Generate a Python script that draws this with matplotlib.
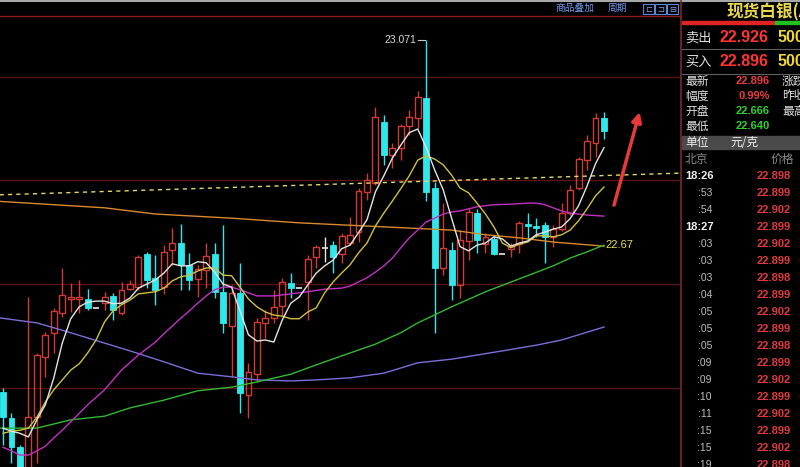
import matplotlib
matplotlib.use("Agg")
import matplotlib.pyplot as plt
from matplotlib.patches import Rectangle
from matplotlib.lines import Line2D

plt.rcParams['font.family'] = ['Noto Sans CJK SC', 'DejaVu Sans']

# candle data (price), one per bar
opens = [22.392, 22.341, 22.285, 22.237, 22.343, 22.459, 22.506, 22.544, 22.571, 22.571,
         22.571, 22.554, 22.563, 22.577, 22.544, 22.590, 22.594, 22.658, 22.612, 22.594,
         22.666, 22.679, 22.637, 22.610, 22.627, 22.658, 22.585, 22.519, 22.583, 22.386,
         22.426, 22.525, 22.534, 22.558, 22.602, 22.592, 22.604, 22.652, 22.670, 22.675,
         22.658, 22.679, 22.700, 22.778, 22.795, 22.913, 22.849, 22.863, 22.905, 22.920,
         22.959, 22.785, 22.631, 22.666, 22.598, 22.683, 22.737, 22.677, 22.687, 22.658,
         22.668, 22.677, 22.716, 22.712, 22.714, 22.691, 22.706, 22.737, 22.785, 22.839,
         22.872, 22.920]
highs = [22.399, 22.351, 22.289, 22.575, 22.467, 22.507, 22.554, 22.631, 22.602, 22.608,
         22.590, 22.554, 22.585, 22.583, 22.604, 22.608, 22.656, 22.662, 22.656, 22.675,
         22.708, 22.716, 22.660, 22.637, 22.679, 22.679, 22.714, 22.598, 22.641, 22.448,
         22.534, 22.550, 22.589, 22.612, 22.621, 22.592, 22.656, 22.675, 22.691, 22.683,
         22.699, 22.729, 22.785, 22.814, 22.942, 22.926, 22.872, 22.909, 22.936, 22.973,
         23.071, 22.797, 22.756, 22.681, 22.704, 22.747, 22.745, 22.699, 22.693, 22.658,
         22.679, 22.722, 22.737, 22.727, 22.720, 22.714, 22.756, 22.791, 22.845, 22.888,
         22.930, 22.932]
lows = [22.289, 22.255, 22.222, 22.226, 22.255, 22.421, 22.467, 22.536, 22.546, 22.544,
        22.550, 22.554, 22.550, 22.531, 22.540, 22.589, 22.589, 22.592, 22.560, 22.581,
        22.637, 22.589, 22.589, 22.575, 22.592, 22.573, 22.506, 22.421, 22.351, 22.341,
        22.411, 22.496, 22.525, 22.540, 22.573, 22.592, 22.531, 22.631, 22.643, 22.621,
        22.641, 22.675, 22.681, 22.762, 22.791, 22.830, 22.824, 22.839, 22.888, 22.901,
        22.760, 22.506, 22.617, 22.569, 22.573, 22.646, 22.660, 22.660, 22.656, 22.658,
        22.652, 22.660, 22.685, 22.691, 22.641, 22.672, 22.702, 22.733, 22.782, 22.820,
        22.845, 22.880]
closes = [22.343, 22.285, 22.237, 22.343, 22.463, 22.502, 22.548, 22.579, 22.575, 22.575,
          22.554, 22.554, 22.575, 22.550, 22.589, 22.600, 22.652, 22.608, 22.589, 22.662,
          22.679, 22.637, 22.608, 22.629, 22.654, 22.585, 22.525, 22.583, 22.390, 22.430,
          22.527, 22.534, 22.556, 22.604, 22.592, 22.592, 22.648, 22.672, 22.670, 22.652,
          22.693, 22.695, 22.780, 22.801, 22.922, 22.849, 22.863, 22.905, 22.922, 22.961,
          22.778, 22.631, 22.670, 22.598, 22.685, 22.739, 22.685, 22.691, 22.658, 22.658,
          22.673, 22.718, 22.712, 22.708, 22.691, 22.706, 22.737, 22.782, 22.841, 22.876,
          22.920, 22.895]

# moving averages
ma5 = [22.322, 22.316, 22.312, 22.305, 22.338, 22.367, 22.419, 22.486, 22.533, 22.556,
       22.565, 22.567, 22.567, 22.562, 22.563, 22.573, 22.592, 22.600, 22.608, 22.621,
       22.639, 22.635, 22.635, 22.643, 22.641, 22.623, 22.600, 22.594, 22.548, 22.502,
       22.490, 22.492, 22.488, 22.531, 22.563, 22.575, 22.598, 22.621, 22.635, 22.646,
       22.668, 22.675, 22.699, 22.724, 22.778, 22.809, 22.843, 22.868, 22.892, 22.899,
       22.863, 22.820, 22.782, 22.727, 22.672, 22.664, 22.675, 22.679, 22.691, 22.687,
       22.673, 22.679, 22.683, 22.695, 22.700, 22.706, 22.710, 22.726, 22.751, 22.789,
       22.832, 22.863]
ma10 = [22.312, 22.316, 22.318, 22.322, 22.343, 22.372, 22.396, 22.415, 22.434, 22.446,
        22.467, 22.492, 22.527, 22.548, 22.560, 22.569, 22.581, 22.583, 22.585, 22.592,
        22.606, 22.614, 22.617, 22.625, 22.631, 22.631, 22.617, 22.616, 22.594, 22.571,
        22.556, 22.546, 22.540, 22.538, 22.533, 22.533, 22.546, 22.554, 22.583, 22.604,
        22.621, 22.637, 22.660, 22.679, 22.712, 22.737, 22.760, 22.784, 22.809, 22.839,
        22.847, 22.841, 22.830, 22.810, 22.785, 22.776, 22.756, 22.735, 22.710, 22.679,
        22.670, 22.677, 22.681, 22.693, 22.693, 22.691, 22.695, 22.704, 22.722, 22.745,
        22.770, 22.787]
ma20_idx = [0, 1, 2, 3, 4, 5, 6, 7, 8, 10, 12, 14, 16, 18, 19, 20, 21, 22, 23, 24, 25, 26, 27,
            28, 29, 30, 32, 34, 36, 38, 40, 41, 42, 43, 44, 45, 46, 47, 48, 49, 50, 51, 52, 53,
            54, 56, 58, 60, 62, 63, 64, 65, 66, 67, 68, 69, 71]
ma20 = [22.285, 22.278, 22.270, 22.270, 22.278, 22.287, 22.303, 22.318, 22.334, 22.367,
        22.396, 22.434, 22.463, 22.488, 22.504, 22.519, 22.534, 22.548, 22.563, 22.577,
        22.589, 22.594, 22.594, 22.589, 22.583, 22.577, 22.577, 22.581, 22.585, 22.590,
        22.592, 22.596, 22.604, 22.612, 22.623, 22.635, 22.650, 22.670, 22.689, 22.704,
        22.720, 22.727, 22.735, 22.739, 22.741, 22.749, 22.753, 22.754, 22.756, 22.756,
        22.753, 22.747, 22.741, 22.737, 22.735, 22.733, 22.731]
ma60_idx = [-1, 4, 8, 12, 15, 19, 23, 27, 30, 34, 37, 41, 44, 47, 49, 53, 57, 61, 65, 67, 69, 71]
ma60 = [22.322, 22.322, 22.338, 22.345, 22.361, 22.376, 22.394, 22.401, 22.411, 22.426,
        22.444, 22.467, 22.484, 22.506, 22.525, 22.556, 22.585, 22.610, 22.635, 22.650,
        22.662, 22.675]
ma120_idx = [-1, 4, 8, 12, 15, 19, 23, 27, 30, 34, 37, 41, 45, 49, 53, 59, 63, 66, 71]
ma120 = [22.536, 22.525, 22.506, 22.486, 22.471, 22.450, 22.428, 22.421, 22.415, 22.413,
         22.415, 22.419, 22.428, 22.448, 22.455, 22.471, 22.482, 22.492, 22.517]
ma250_idx = [-1, 12, 18, 27, 35, 53, 57, 61, 65, 71]
ma250 = [22.760, 22.747, 22.735, 22.727, 22.718, 22.704, 22.695, 22.689, 22.681, 22.673]

trend_idx = [-0.4, 80.2]
trend_val = [22.772, 22.814]
grid_levels = [22.4, 22.6, 22.8, 23.0]
arrow_from = (72.1, 22.747)
arrow_to = (75.3, 22.937)
peak_label = "23.071"
ma_label = "22.67"

# right side quote panel
title = "现货白银(AG)"
sell_price, buy_price = "22.926", "22.896"
info_left = [("最新", "22.896", "涨跌"), ("幅度", "0.99%", "昨收"),
             ("开盘", "22.666", "最高"), ("最低", "22.640", "")]
info_colors = ["#e83c3c", "#e83c3c", "#2fd02f", "#2fd02f"]
tick_times = ["18:26", ":53", ":54", "18:27", ":03", ":03", ":03", ":04", ":05",
              ":05", ":05", ":09", ":09", ":10", ":11", ":15", ":15", ":19"]
tick_prices = ["22.898", "22.899", "22.902", "22.899", "22.902", "22.899", "22.898",
               "22.899", "22.902", "22.899", "22.898", "22.899", "22.902", "22.899",
               "22.902", "22.899", "22.902", "22.898"]

W, H = 800, 467
RED = "#d23a34"
CYAN = "#2ee8ec"


def fx(x):
    return x / W


def fy(y):
    return 1 - y / H


fig = plt.figure(figsize=(8, 4.67), dpi=100, facecolor="black")

# main candle chart
ax = fig.add_axes([0, 0, 681 / W, 451 / H])
ax.set_facecolor("black")
ax.set_xlim(-0.355, 80.1)
ax.set_ylim(22.247, 23.117)
ax.axis("off")

for g in grid_levels:
    ax.axhline(g, color="#5a1414", lw=1, zorder=1)

bw = 0.7
for i in range(len(opens)):
    o, h, l, c = opens[i], highs[i], lows[i], closes[i]
    if c > o:
        ax.vlines(i, c, h, color=RED, lw=1, zorder=2)
        ax.vlines(i, l, o, color=RED, lw=1, zorder=2)
        ax.add_patch(Rectangle((i - bw / 2, o), bw, c - o, fill=False,
                               edgecolor=RED, lw=1, zorder=2))
    elif c < o:
        ax.vlines(i, l, h, color=CYAN, lw=1, zorder=2)
        ax.add_patch(Rectangle((i - bw / 2, c), bw, o - c, facecolor=CYAN,
                               edgecolor=CYAN, lw=0.6, zorder=2))
    else:
        ax.vlines(i, l, h, color="#e8e8e8", lw=1, zorder=2)
        ax.hlines(o, i - bw / 2, i + bw / 2, color="#e8e8e8", lw=1.2, zorder=2)

idx = list(range(len(closes)))
ax.plot(trend_idx, trend_val, color="#e6d866", lw=1, ls=(0, (3, 3)), zorder=3)
ax.plot(ma250_idx, ma250, color="#d98a2e", lw=1, zorder=3)
ax.plot(ma120_idx, ma120, color="#7a6ed8", lw=1, zorder=3)
ax.plot(ma60_idx, ma60, color="#33b833", lw=1, zorder=3)
ax.plot(ma20_idx, ma20, color="#c42fc4", lw=1, zorder=3)
ax.plot(idx, ma10, color="#cfc040", lw=1, zorder=3)
ax.plot(idx, ma5, color="#e4e4e4", lw=1, zorder=3)

peak_i = highs.index(max(highs))
ax.text(peak_i - 1.2, max(highs), peak_label, color="#d8d8d8", fontsize=7.5,
        ha="right", va="center", family=["Liberation Sans", "DejaVu Sans"])
ax.plot([peak_i - 0.95, peak_i - 0.1], [max(highs)] * 2, color="#c8c8c8", lw=0.8)
ax.text(71.2, ma60[-1], ma_label, color="#e8e050", fontsize=8, ha="left", va="center",
        family=["Liberation Sans", "DejaVu Sans"])

ax.annotate("", xy=arrow_to, xytext=arrow_from,
            arrowprops=dict(arrowstyle="-|>", color="#e83a3a", lw=2.5, mutation_scale=14))

# frame lines
fig.add_artist(Line2D([0, 1], [fy(0.5)] * 2, color="#a8a8a8", lw=1.5))
fig.add_artist(Line2D([0, fx(681)], [fy(16)] * 2, color="#8a1c1c", lw=1))
fig.add_artist(Line2D([fx(681)] * 2, [0, 1], color="#7a2a2a", lw=1.2))

# top toolbar
fig.text(fx(555), fy(8), "商品叠加", color="#6f9ae8", fontsize=7, va="center")
fig.text(fx(608), fy(8), "周期", color="#6f9ae8", fontsize=7, va="center")
for k, sym in enumerate(["⊏", "⊐", "⊟"]):
    x0 = 643 + k * 12
    fig.add_artist(Rectangle((fx(x0), fy(14)), 11 / W, 10 / H, fill=False,
                             edgecolor="#5f86d8", lw=0.8))
    fig.text(fx(x0 + 5.5), fy(9), sym, color="#7fa4ec", fontsize=6, ha="center",
             va="center", family=["DejaVu Sans"])

# quote panel
fig.text(fx(727), fy(12), title, color="#e8d84a", fontsize=12, fontweight="bold", va="center")
fig.add_artist(Rectangle((fx(682), fy(24)), 93 / W, 3 / H, color="#e02424"))
fig.add_artist(Rectangle((fx(775), fy(24)), 25 / W, 3 / H, color="#22c022"))

num_font = ["Liberation Sans", "DejaVu Sans"]
for y, lab, price in [(38, "卖出", sell_price), (62, "买入", buy_price)]:
    fig.text(fx(685), fy(y), lab, color="#e0e0e0", fontsize=9.5, va="center")
    fig.text(fx(719), fy(y), price, color="#ff3434", fontsize=11.5, fontweight="bold",
             va="center", family=num_font)
    fig.text(fx(777), fy(y), "500", color="#ecd830", fontsize=11.5, fontweight="bold",
             va="center", family=num_font)
fig.add_artist(Line2D([fx(682), 1], [fy(49)] * 2, color="#606060", lw=0.8))
fig.add_artist(Line2D([fx(682), 1], [fy(74)] * 2, color="#606060", lw=0.8))

for k, (lab, val, right) in enumerate(info_left):
    y = 81 + 15 * k
    fig.text(fx(685), fy(y), lab, color="#e0e0e0", fontsize=8.5, va="center")
    fig.text(fx(770), fy(y), val, color=info_colors[k], fontsize=8, fontweight="bold",
             ha="right", va="center", family=num_font)
    fig.text(fx(782), fy(y), right, color="#e0e0e0", fontsize=8.5, va="center")

fig.add_artist(Rectangle((fx(682), fy(149)), 118 / W, 13 / H, color="#4a4a4a"))
fig.text(fx(685), fy(142.5), "单位", color="#f0f0f0", fontsize=8.5, va="center")
fig.text(fx(744), fy(142.5), "元/克", color="#f0f0f0", fontsize=8.5, ha="center", va="center")
fig.text(fx(685), fy(159), "北京", color="#8a8a8a", fontsize=8.5, va="center")
fig.text(fx(771), fy(159), "价格", color="#8a8a8a", fontsize=8.5, va="center")

for k, (t, p) in enumerate(zip(tick_times, tick_prices)):
    y = 176 + 17 * k
    if len(t) > 3:
        fig.text(fx(685), fy(y), t, color="#f2f2f2", fontsize=8, fontweight="bold",
                 va="center", family=num_font)
    else:
        fig.text(fx(712), fy(y), t, color="#bdbdbd", fontsize=7.5, ha="right",
                 va="center", family=num_font)
    fig.text(fx(791), fy(y), p, color="#e03a3a", fontsize=8, fontweight="bold",
             ha="right", va="center", family=num_font)

fig.savefig("out.png", dpi=100, facecolor="black")
